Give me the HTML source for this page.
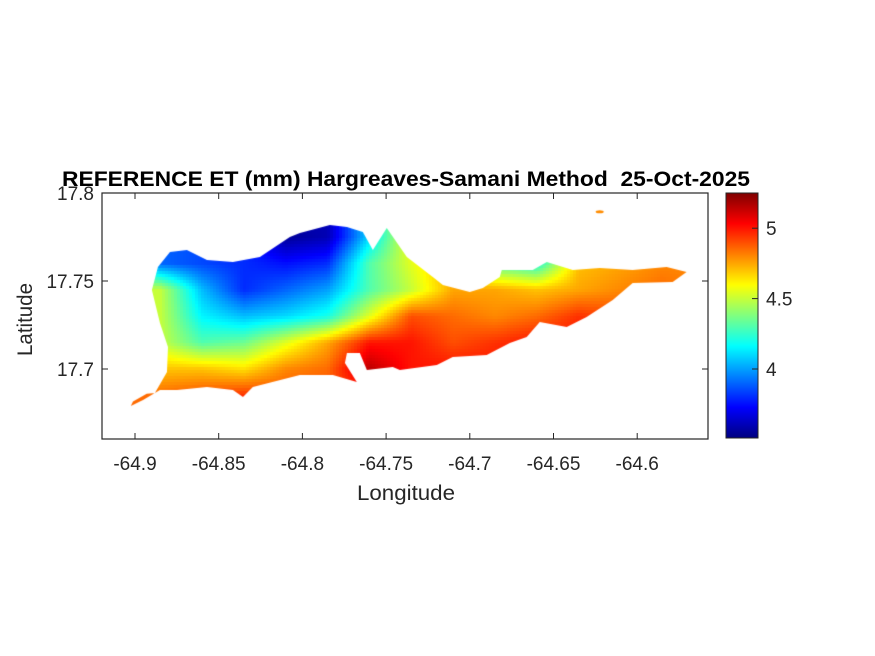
<!DOCTYPE html>
<html><head><meta charset="utf-8"><style>
body{margin:0;background:#fff;width:875px;height:656px;overflow:hidden;font-family:"Liberation Sans",sans-serif}
#wrap{position:relative;width:875px;height:656px}
</style></head><body>
<div id="wrap">
<canvas id="map" width="875" height="656" style="position:absolute;left:0;top:0"></canvas>
<svg id="ax" width="875" height="656" style="position:absolute;left:0;top:0">
<text x="62" y="186" textLength="688" lengthAdjust="spacingAndGlyphs" font-size="21" font-weight="bold" font-family="Liberation Sans" fill="#000">REFERENCE ET (mm) Hargreaves-Samani Method&#160; 25-Oct-2025</text>
<text x="357" y="500" textLength="98" lengthAdjust="spacingAndGlyphs" font-size="21" font-family="Liberation Sans" fill="#262626">Longitude</text>
<text transform="translate(32,356) rotate(-90)" x="0" y="0" textLength="73" lengthAdjust="spacingAndGlyphs" font-size="21" font-family="Liberation Sans" fill="#262626">Latitude</text>
</svg>
</div>
<script>
const lonGrid=[-64.91,-64.885,-64.86,-64.835,-64.81,-64.785,-64.76,-64.735,-64.71,-64.685,-64.66,-64.635,-64.61,-64.585,-64.56];
const latGrid=[17.79,17.775,17.76,17.745,17.73,17.715,17.70,17.685,17.67];
const etRow0=[4.0,3.9,3.9,3.8,3.6,3.6,4.1,4.6,4.7,4.7,4.7,4.8,4.8,4.8,4.8];
const etRow1=[4.1,3.9,3.85,3.8,3.55,3.6,4.1,4.6,4.7,4.6,4.6,4.7,4.8,4.8,4.8];
const etRow2=[4.3,3.9,3.85,3.8,3.75,3.8,4.3,4.55,4.75,4.3,4.2,4.7,4.75,4.8,4.8];
const etRow3=[4.5,4.5,4.05,3.8,3.9,4.0,4.3,4.5,4.75,4.75,4.7,4.75,4.8,4.85,4.8];
const etRow4=[4.5,4.5,4.15,4.05,4.1,4.2,4.55,4.9,4.85,4.8,4.85,4.95,4.9,4.9,4.9];
const etRow5=[4.6,4.5,4.3,4.35,4.55,4.75,5.0,5.0,4.9,4.95,5.0,5.0,5.0,5.0,5.0];
const etRow6=[4.75,4.7,4.7,4.65,4.8,4.85,5.15,5.0,5.0,5.0,5.0,5.0,5.0,5.0,5.0];
const etRow7=[4.85,4.85,4.9,4.95,4.9,4.9,4.95,5.0,5.0,5.0,5.0,5.0,5.0,5.0,5.0];
const etRow8=[4.85,4.85,4.9,4.95,4.9,4.9,4.95,5.0,5.0,5.0,5.0,5.0,5.0,5.0,5.0];
const coastLon=[-64.9012,-64.8930,-64.8881,-64.8809,-64.8803,-64.8851,-64.8899,-64.8863,-64.8791,-64.8690,-64.8570,-64.8415,-64.8254,-64.8075,-64.8015,-64.7836,-64.7734,-64.7639,-64.7579,-64.7496,-64.7376,-64.7221,-64.7161,-64.7000,-64.6922,-64.6821,-64.6809,-64.6624,-64.6540,-64.6385,-64.6224,-64.6027,-64.5824,-64.5705,-64.5788,-64.6027,-64.6146,-64.6302,-64.6421,-64.6582,-64.6660,-64.6761,-64.6899,-64.7102,-64.7197,-64.7418,-64.7460,-64.7615,-64.7657,-64.7734,-64.7746,-64.7675,-64.7818,-64.8015,-64.8296,-64.8355,-64.8415,-64.8570,-64.8749,-64.8851,-64.8952,-64.9025];
const coastLat=[17.6815,17.6860,17.6864,17.6983,17.7125,17.7261,17.7449,17.7580,17.7665,17.7676,17.7619,17.7608,17.7636,17.7750,17.7773,17.7818,17.7807,17.7778,17.7676,17.7801,17.7636,17.7523,17.7477,17.7438,17.7460,17.7523,17.7562,17.7562,17.7608,17.7562,17.7574,17.7562,17.7580,17.7551,17.7494,17.7489,17.7392,17.7296,17.7239,17.7267,17.7182,17.7148,17.7080,17.7068,17.7023,17.6994,17.7012,17.6994,17.7091,17.7091,17.7034,17.6926,17.6966,17.6966,17.6898,17.6841,17.6881,17.6898,17.6881,17.6881,17.6824,17.6790];
const xTicks=[-64.9,-64.85,-64.8,-64.75,-64.7,-64.65,-64.6];
const xTickLabels=["-64.9","-64.85","-64.8","-64.75","-64.7","-64.65","-64.6"];
const yTicks=[17.7,17.75,17.8];
const yTickLabels=["17.7","17.75","17.8"];
const cbTicks=[4,4.5,5];
const cbTickLabels=["4","4.5","5"];
const cMin=3.51,cMax=5.25;
const etRows=[etRow0,etRow1,etRow2,etRow3,etRow4,etRow5,etRow6,etRow7,etRow8];

const AX={l:102,r:708,t:193,b:439};
const xS=v=>135+(v+64.9)*1674;
const yS=v=>281-(v-17.75)*1760;
const cbS=v=>438-(v-cMin)/(cMax-cMin)*245;
function jet(v){let t=(v-cMin)/(cMax-cMin);t=Math.max(0,Math.min(1,t));
 const f=x=>Math.max(0,Math.min(1,x));
 return [f(1.5-Math.abs(4*t-3)),f(1.5-Math.abs(4*t-2)),f(1.5-Math.abs(4*t-1))].map(c=>Math.round(c*255));}
function interp(lon,lat){
 let fi=(lon-lonGrid[0])/(lonGrid[1]-lonGrid[0]);let fj=(lat-latGrid[0])/(latGrid[1]-latGrid[0]);
 fi=Math.max(0,Math.min(lonGrid.length-1.001,fi));fj=Math.max(0,Math.min(latGrid.length-1.001,fj));
 const i=Math.floor(fi),j=Math.floor(fj),a=fi-i,b=fj-j;
 return (etRows[j][i]*(1-a)+etRows[j][i+1]*a)*(1-b)+(etRows[j+1][i]*(1-a)+etRows[j+1][i+1]*a)*b;}
const cv=document.getElementById('map'),ctx=cv.getContext('2d');
ctx.save();ctx.beginPath();
coastLon.forEach((lo,k)=>{const X=xS(lo),Y=yS(coastLat[k]);k?ctx.lineTo(X,Y):ctx.moveTo(X,Y);});
ctx.closePath();ctx.clip();
const step=3;
for(let X=AX.l;X<AX.r;X+=step)for(let Y=AX.t;Y<AX.b;Y+=step){
 const lon=-64.9+(X+step/2-135)/1674,lat=17.75-(Y+step/2-281)/1760;
 const c=jet(interp(lon,lat));ctx.fillStyle=`rgb(${c[0]},${c[1]},${c[2]})`;ctx.fillRect(X,Y,step,step);}
ctx.restore();
ctx.fillStyle='rgb(255,140,0)';ctx.beginPath();ctx.ellipse(xS(-64.6224),yS(17.7893),4,1.5,0,0,7);ctx.fill();
for(let Y=193;Y<438;Y++){const c=jet(cMin+(438-Y-0.5)/245*(cMax-cMin));ctx.fillStyle=`rgb(${c[0]},${c[1]},${c[2]})`;ctx.fillRect(726,Y,32,1);}

const NS='http://www.w3.org/2000/svg',svg=document.getElementById('ax');
function el(tag,at,txt){const e=document.createElementNS(NS,tag);for(const k in at)e.setAttribute(k,at[k]);if(txt!==undefined)e.textContent=txt;svg.appendChild(e);return e;}
const box=el('rect',{x:AX.l,y:AX.t,width:AX.r-AX.l,height:AX.b-AX.t,fill:'none',stroke:'#262626','stroke-width':1.2});


xTicks.forEach((v,k)=>{const X=xS(v);
 el('line',{x1:X,x2:X,y1:AX.b,y2:AX.b-6,stroke:'#262626'});el('line',{x1:X,x2:X,y1:AX.t,y2:AX.t+6,stroke:'#262626'});
 const t=el('text',{x:X,y:AX.b+31,'text-anchor':'middle','font-size':19,fill:'#262626','font-family':'Liberation Sans'},xTickLabels[k]);
 
 });
yTicks.forEach((v,k)=>{const Y=yS(v);
 el('line',{x1:AX.l,x2:AX.l+6,y1:Y,y2:Y,stroke:'#262626'});el('line',{x1:AX.r,x2:AX.r-6,y1:Y,y2:Y,stroke:'#262626'});
 const t=el('text',{x:AX.l-8,y:Y+7,'text-anchor':'end','font-size':19,fill:'#262626','font-family':'Liberation Sans'},yTickLabels[k]);
 
 });
const cb=el('rect',{x:726,y:193,width:32,height:245,fill:'none',stroke:'#262626','stroke-width':1});


cbTicks.forEach((v,k)=>{const Y=cbS(v);
 el('line',{x1:752,x2:758,y1:Y,y2:Y,stroke:'#262626'});
 const t=el('text',{x:766,y:Y+7,'font-size':19,fill:'#262626','font-family':'Liberation Sans'},cbTickLabels[k]);
 
 });
</script>
</body></html>
